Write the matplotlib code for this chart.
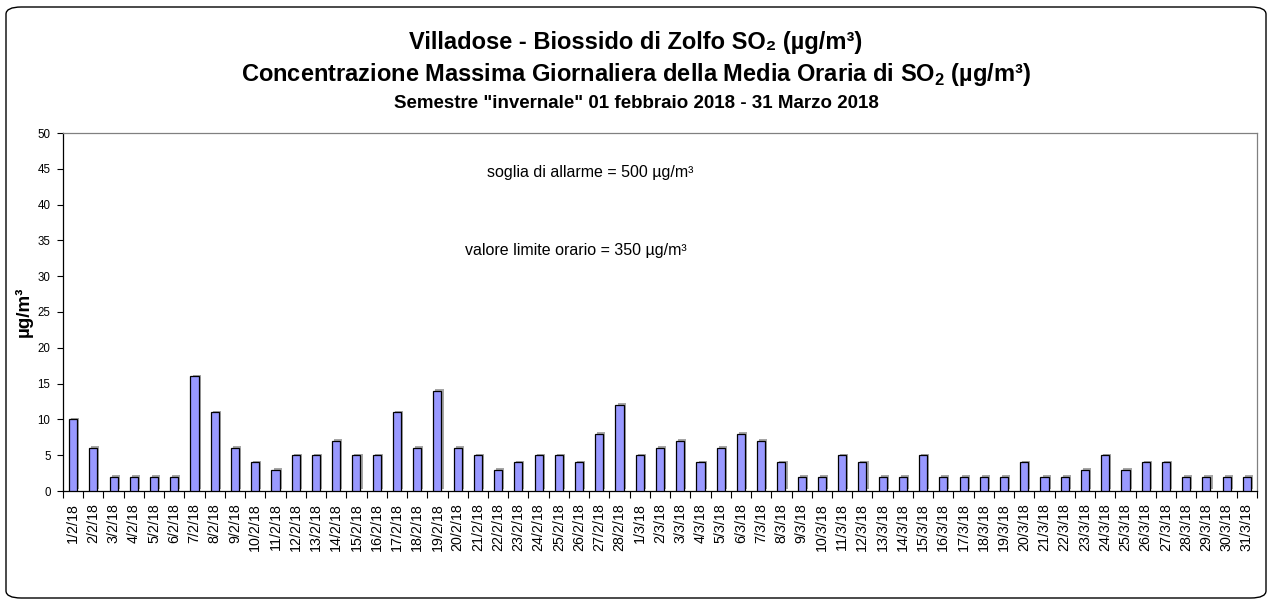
import matplotlib
matplotlib.use("Agg")
import matplotlib.pyplot as plt
from matplotlib.patches import FancyBboxPatch
import matplotlib.patheffects as pe
import numpy as np

plt.rcParams['font.family'] = ['Liberation Sans', 'DejaVu Sans']
plt.rcParams['mathtext.fontset'] = 'custom'
plt.rcParams['mathtext.rm'] = 'Liberation Sans'
plt.rcParams['mathtext.bf'] = 'Liberation Sans:bold'

dates = [f"{d}/2/18" for d in range(1, 29)] + [f"{d}/3/18" for d in range(1, 32)]
values = [10, 6, 2, 2, 2, 2, 16, 11, 6, 4, 3, 5, 5, 7, 5, 5, 11, 6, 14, 6,
          5, 3, 4, 5, 5, 4, 8, 12,
          5, 6, 7, 4, 6, 8, 7, 4, 2, 2, 5, 4, 2, 2, 5, 2, 2, 2, 2, 4, 2, 2,
          3, 5, 3, 4, 4, 2, 2, 2, 2]
y_ticks = [0, 5, 10, 15, 20, 25, 30, 35, 40, 45, 50]

title1 = "Villadose - Biossido di Zolfo SO₂ (µg/m³)"
title2 = r"Concentrazione Massima Giornaliera della Media Oraria di SO$_\mathbf{2}$ (µg/m³)"
title3 = 'Semestre "invernale" 01 febbraio 2018 - 31 Marzo 2018'
note1 = "soglia di allarme = 500 µg/m³"
note2 = "valore limite orario = 350 µg/m³"
ylabel = "µg/m³"

W, H = 1272, 603
fig = plt.figure(figsize=(W / 100, H / 100), dpi=100)

frame = FancyBboxPatch((6 / W, 5 / H), (W - 12) / W, (H - 12) / H,
                       boxstyle="round,pad=0,rounding_size=0.012",
                       transform=fig.transFigure, facecolor='none',
                       edgecolor='black', linewidth=1.0, zorder=-5)
fig.patches.append(frame)

ax = fig.add_axes([63 / W, 1 - 491 / H, (1257 - 63) / W, (491 - 133) / H])
ax.set_facecolor('none')
x = np.arange(len(values))
bars = ax.bar(x, values, width=0.4, color='#9999FF', edgecolor='black', linewidth=0.9, zorder=3)
for b in bars:
    b.set_path_effects([pe.SimplePatchShadow(offset=(1.5, 1.2), shadow_rgbFace='#808080', alpha=0.7),
                        pe.Normal()])

ax.set_xlim(-0.5, len(values) - 0.5)
ax.set_ylim(0, 50)
ax.set_yticks(y_ticks)
ax.set_yticklabels([str(t) for t in y_ticks], fontsize=8.3)
ax.tick_params(axis='y', direction='out', length=4, width=0.8, pad=5)

ax.set_xticks(x)
ax.set_xticklabels(dates, rotation=90, fontsize=10.3)
ax.tick_params(axis='x', which='major', length=0, pad=8.5)
ax.set_xticks(np.arange(len(values) + 1) - 0.5, minor=True)
ax.tick_params(axis='x', which='minor', direction='out', length=5, width=0.8)

for s in ['left', 'bottom']:
    ax.spines[s].set_color('black')
    ax.spines[s].set_linewidth(0.9)
for s in ['top', 'right']:
    ax.spines[s].set_color('#808080')
    ax.spines[s].set_linewidth(0.9)

fig.text(24 / W, 1 - 312 / H, ylabel, rotation=90, ha='center', va='center',
         fontsize=13.5, fontweight='bold')

fig.text(0.5, 1 - 43 / H, title1, ha='center', va='center', fontsize=17, fontweight='bold')
fig.text(0.5, 1 - 75 / H, title2, ha='center', va='center', fontsize=17, fontweight='bold')
fig.text(0.5, 1 - 103 / H, title3, ha='center', va='center', fontsize=13.5, fontweight='bold')

fig.text(590 / W, 1 - 172 / H, note1, ha='center', va='center', fontsize=11.5)
fig.text(576 / W, 1 - 250 / H, note2, ha='center', va='center', fontsize=11.5)

fig.savefig("out.png", dpi=100)
